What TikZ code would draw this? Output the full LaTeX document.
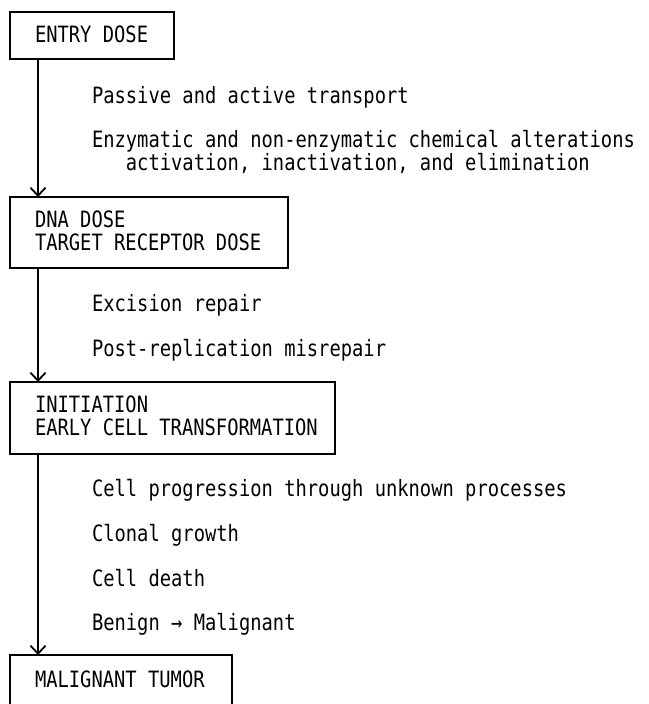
\documentclass[tikz,border=0pt]{standalone}
\usepackage{fontspec}
\usepackage{graphicx}
\setmonofont{DejaVu Sans Mono}
\usetikzlibrary{arrows.meta}
\newcommand{\mtxt}[1]{\scalebox{0.835}[1]{\ttfamily\fontsize{22.5}{22.5}\selectfont\begin{tabular}[t]{@{}l@{}}#1\end{tabular}}}
\tikzset{
  stagebox/.style={draw, line width=1.8pt, inner sep=0pt, outer sep=0pt, anchor=north west},
  label/.style={inner sep=0pt, outer sep=0pt, anchor=base west},
  flow/.style={line width=1.4pt, -{Straight Barb[length=8pt,width=15pt,line width=1.8pt]}}
}
\begin{document}
\begin{tikzpicture}[x=1pt,y=-1pt]
\useasboundingbox (0,0) rectangle (648,704);
% boxes
\node[stagebox, minimum width=164pt, minimum height=47pt] (b1) at (10,12) {};
\node[stagebox, minimum width=278pt, minimum height=71pt] (b2) at (10,197) {};
\node[stagebox, minimum width=325pt, minimum height=72pt] (b3) at (10,382) {};
\node[stagebox, minimum width=222pt, minimum height=70pt] (b4) at (10,655) {};
% box texts
\node[label] (t1) at (35,42) {\mtxt{ENTRY DOSE}};
\node[label] (t2) at (35,227) {\mtxt{DNA DOSE\\TARGET RECEPTOR DOSE}};
\node[label] (t3) at (35,412) {\mtxt{INITIATION\\EARLY CELL TRANSFORMATION}};
\node[label] (t4) at (35,687) {\mtxt{MALIGNANT TUMOR}};
% descriptions
\node[label] (d1) at (92,103) {\mtxt{Passive and active transport}};
\node[label] (d2) at (92,147) {\mtxt{Enzymatic and non-enzymatic chemical alterations\\\phantom{Enz}activation, inactivation, and elimination}};
\node[label] (d3) at (92,311) {\mtxt{Excision repair}};
\node[label] (d4) at (92,356) {\mtxt{Post-replication misrepair}};
\node[label] (d5) at (92,496) {\mtxt{Cell progression through unknown processes}};
\node[label] (d6) at (92,541) {\mtxt{Clonal growth}};
\node[label] (d7) at (92,586) {\mtxt{Cell death}};
\node[label] (d8) at (92,630) {\mtxt{Benign → Malignant}};
% connectors
\draw[flow] ([xshift=28pt]b1.south west) -- ([xshift=28pt]b2.north west);
\draw[flow] ([xshift=28pt]b2.south west) -- ([xshift=28pt]b3.north west);
\draw[flow] ([xshift=28pt]b3.south west) -- ([xshift=28pt]b4.north west);
\end{tikzpicture}
\end{document}
